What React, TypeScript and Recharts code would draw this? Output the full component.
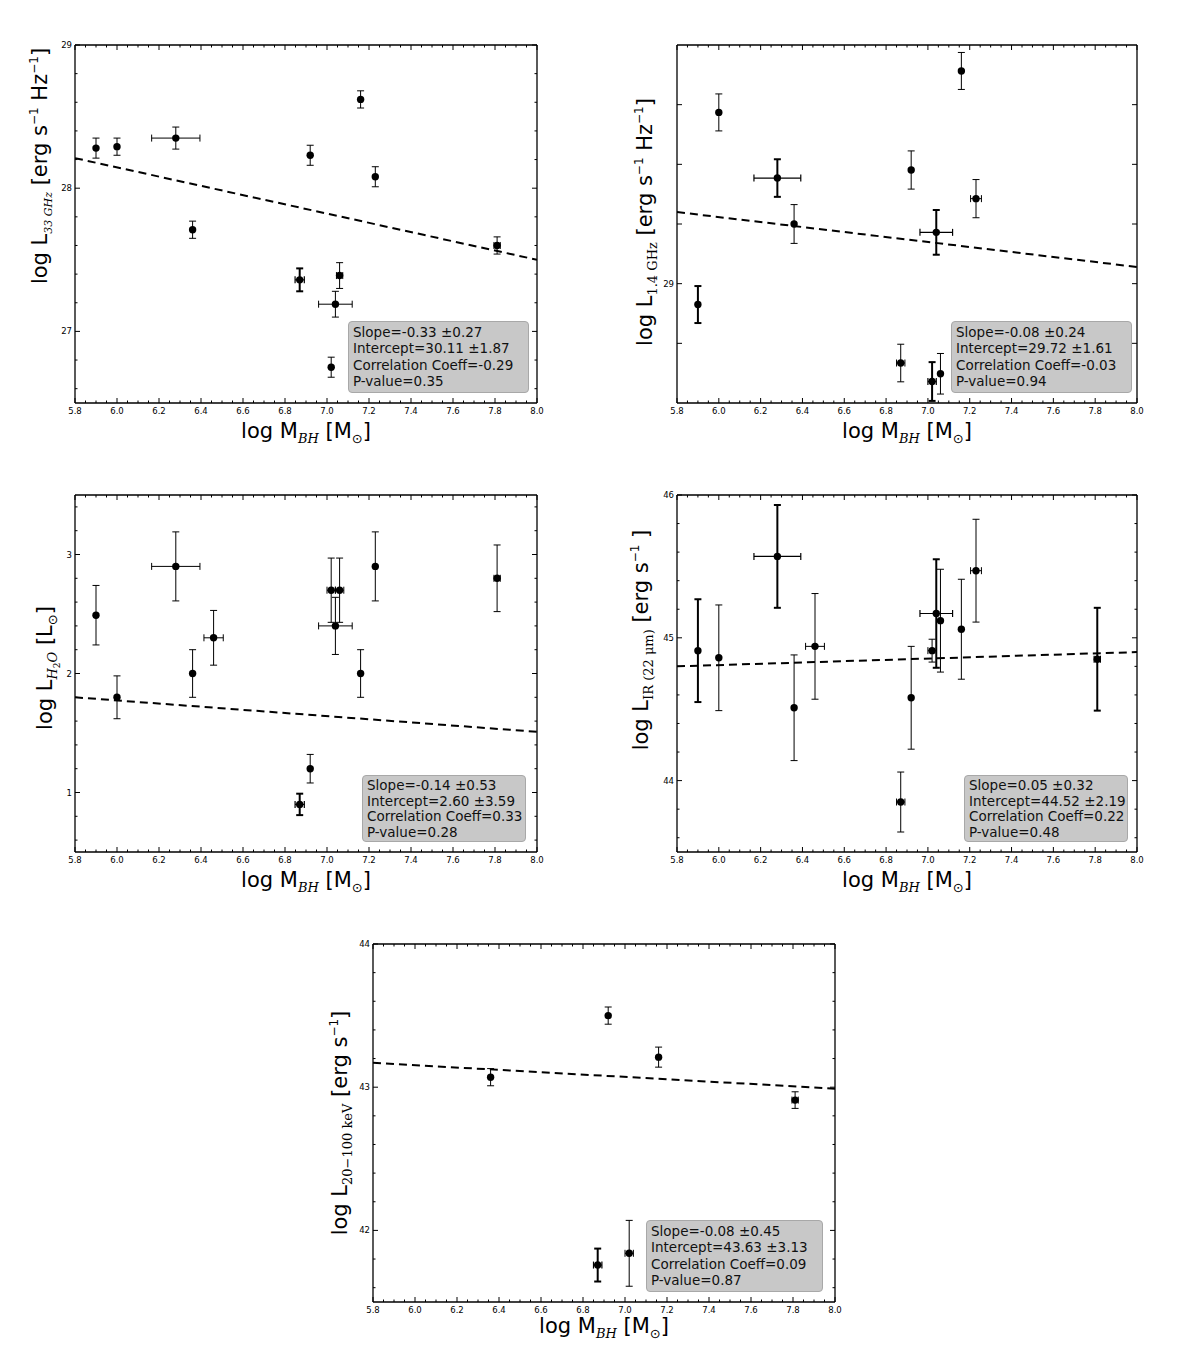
import React from 'react';
import { ScatterChart, Scatter, XAxis, YAxis, ErrorBar } from 'recharts';

const FONT = '"DejaVu Sans", sans-serif';
const SERIF = '"DejaVu Serif", serif';

// ---------- shared x axis ----------
const xMajorTicks = [5.8, 6.0, 6.2, 6.4, 6.6, 6.8, 7.0, 7.2, 7.4, 7.6, 7.8, 8.0];

// ---------- Panel 1: L 33 GHz ----------
const mbh1 = [5.9, 6.0, 6.28, 6.36, 6.92, 7.16, 7.23, 6.87, 7.06, 7.04, 7.02, 7.81];
const mbhErr1 = [0, 0, 0.115, 0, 0, 0, 0, 0.022, 0.015, 0.08, 0, 0.015];
const l33 = [28.28, 28.29, 28.35, 27.71, 28.23, 28.62, 28.08, 27.36, 27.39, 27.19, 26.75, 27.6];
const l33Err = [0.07, 0.06, 0.077, 0.06, 0.07, 0.06, 0.07, 0.08, 0.09, 0.09, 0.07, 0.06];
const thick1 = [0, 0, 0, 0, 0, 0, 0, 1, 0, 0, 0, 0];
const fitX1 = [5.8, 8.0];
const fitY1 = [28.21, 27.5];
const yTicks1 = [27, 28, 29];
const stats1 = ['Slope=-0.33 \u00b10.27', 'Intercept=30.11 \u00b11.87', 'Correlation Coeff=-0.29', 'P-value=0.35'];

// ---------- Panel 2: L 1.4 GHz ----------
const mbh2 = [5.9, 6.0, 6.28, 6.36, 6.92, 7.16, 7.23, 7.04, 6.87, 7.02, 7.06];
const mbhErr2 = [0, 0, 0.112, 0, 0, 0, 0.026, 0.078, 0.02, 0.02, 0];
const l14 = [28.93, 29.574, 29.354, 29.2, 29.381, 29.713, 29.285, 29.172, 28.734, 28.672, 28.698];
const l14Err = [0.062, 0.062, 0.063, 0.065, 0.064, 0.062, 0.064, 0.075, 0.063, 0.065, 0.068];
const thick2 = [1, 0, 1, 0, 0, 0, 0, 1, 0, 1, 0];
const fitX2 = [5.8, 8.0];
const fitY2 = [29.24, 29.056];
const yTicks2 = [28.8, 29.0, 29.2, 29.4, 29.6];
const yLabels2 = [29];
const stats2 = ['Slope=-0.08 \u00b10.24', 'Intercept=29.72 \u00b11.61', 'Correlation Coeff=-0.03', 'P-value=0.94'];

// ---------- Panel 3: L H2O ----------
const mbh3 = [5.9, 6.0, 6.28, 6.36, 6.46, 7.02, 7.06, 7.04, 7.16, 7.23, 7.81, 6.92, 6.87];
const mbhErr3 = [0, 0, 0.115, 0, 0.046, 0.02, 0.02, 0.08, 0, 0, 0.015, 0, 0.022];
const lh2o = [2.49, 1.8, 2.9, 2.0, 2.3, 2.7, 2.7, 2.4, 2.0, 2.9, 2.8, 1.2, 0.9];
const lh2oErr = [0.25, 0.18, 0.29, 0.2, 0.23, 0.27, 0.27, 0.24, 0.2, 0.29, 0.28, 0.12, 0.09];
const thick3 = [0, 0, 0, 0, 0, 0, 0, 0, 0, 0, 0, 0, 1];
const fitX3 = [5.8, 8.0];
const fitY3 = [1.8, 1.51];
const yTicks3 = [1, 2, 3];
const stats3 = ['Slope=-0.14 \u00b10.53', 'Intercept=2.60 \u00b13.59', 'Correlation Coeff=0.33', 'P-value=0.28'];

// ---------- Panel 4: L IR 22 um ----------
const mbh4 = [5.9, 6.0, 6.28, 6.36, 6.46, 6.92, 6.87, 7.02, 7.04, 7.06, 7.16, 7.23, 7.81];
const mbhErr4 = [0, 0, 0.112, 0, 0.045, 0, 0.02, 0.02, 0.078, 0, 0, 0.026, 0.015];
const lir = [44.91, 44.86, 45.57, 44.51, 44.94, 44.58, 43.85, 44.91, 45.17, 45.12, 45.06, 45.47, 44.85];
const lirErr = [0.36, 0.37, 0.36, 0.37, 0.37, 0.36, 0.21, 0.08, 0.38, 0.36, 0.35, 0.36, 0.36];
const thick4 = [1, 0, 1, 0, 0, 0, 0, 0, 1, 0, 0, 0, 1];
const fitX4 = [5.8, 8.0];
const fitY4 = [44.8, 44.9];
const yTicks4 = [44, 45, 46];
const stats4 = ['Slope=0.05 \u00b10.32', 'Intercept=44.52 \u00b12.19', 'Correlation Coeff=0.22', 'P-value=0.48'];

// ---------- Panel 5: L 20-100 keV ----------
const mbh5 = [6.36, 6.92, 7.16, 7.81, 6.87, 7.02];
const mbhErr5 = [0, 0, 0, 0.015, 0.02, 0.02];
const lx = [43.07, 43.5, 43.21, 42.91, 41.758, 41.84];
const lxErr = [0.06, 0.06, 0.07, 0.058, 0.115, 0.23];
const thick5 = [0, 0, 0, 0, 1, 0];
const fitX5 = [5.8, 8.0];
const fitY5 = [43.17, 42.99];
const yTicks5 = [42, 43, 44];
const stats5 = ['Slope=-0.08 \u00b10.45', 'Intercept=43.63 \u00b13.13', 'Correlation Coeff=0.09', 'P-value=0.87'];

type Pt = { x: number; y: number; ex: number; ey: number };

function subdivide(majors: number[], n: number, lo: number, hi: number): number[] {
  const step = (majors[1] - majors[0]) / n;
  const out: number[] = [];
  const start = majors[0] - Math.ceil((majors[0] - lo) / step - 1e-9) * step;
  for (let v = start; v <= hi + 1e-9; v += step) {
    if (v >= lo - 1e-9) out.push(Math.round(v * 10000) / 10000);
  }
  return out;
}

function makeTick(side: string, majors: number[], labels: number[] | null, fmt: (v: number) => string) {
  return (props: any) => {
    const { x, y, payload } = props;
    const v = payload.value;
    const major = majors.some((m) => Math.abs(m - v) < 1e-6);
    const hasLabel = labels !== null && labels.some((m) => Math.abs(m - v) < 1e-6);
    const len = major ? 5 : 2.5;
    let line: any = null;
    let text: any = null;
    if (side === 'bottom') {
      line = <line x1={x} x2={x} y1={y} y2={y - len} stroke="#000" strokeWidth={1} />;
      if (hasLabel)
        text = (
          <text x={x} y={y + 11} textAnchor="middle" fontSize={8.5} fontFamily={FONT} fill="#000">
            {fmt(v)}
          </text>
        );
    } else if (side === 'top') {
      line = <line x1={x} x2={x} y1={y} y2={y + len} stroke="#000" strokeWidth={1} />;
    } else if (side === 'left') {
      line = <line x1={x} x2={x + len} y1={y} y2={y} stroke="#000" strokeWidth={1} />;
      if (hasLabel)
        text = (
          <text x={x - 3} y={y + 3} textAnchor="end" fontSize={8.5} fontFamily={FONT} fill="#000">
            {fmt(v)}
          </text>
        );
    } else {
      line = <line x1={x} x2={x - len} y1={y} y2={y} stroke="#000" strokeWidth={1} />;
    }
    return (
      <g>
        {line}
        {text}
      </g>
    );
  };
}

const dot = (p: any) => <circle cx={p.cx} cy={p.cy} r={3.7} fill="#000" />;
const noDot = () => <g />;

type PanelProps = {
  rect: [number, number, number, number];
  yDomain: [number, number];
  yMajors: number[];
  yLabels: number[];
  yMinorStep: number | null;
  xs: number[];
  xe: number[];
  ys: number[];
  ye: number[];
  thick: number[];
  fitX: number[];
  fitY: number[];
};

function Panel(props: PanelProps) {
  const { rect, yDomain, yMajors, yLabels, yMinorStep, xs, xe, ys, ye, thick, fitX, fitY } = props;
  const [px, py, pw, ph] = rect;
  const padL = 30;
  const padT = 10;
  const padR = 10;
  const padB = 25;
  const W = pw + padL + padR;
  const H = ph + padT + padB;

  const thin: Pt[] = [];
  const bold: Pt[] = [];
  xs.forEach((x, i) => {
    const p = { x, y: ys[i], ex: xe[i], ey: ye[i] };
    if (thick[i]) bold.push(p);
    else thin.push(p);
  });
  const fit = fitX.map((x, i) => ({ x, y: fitY[i] }));

  const xAll = subdivide(xMajorTicks, 4, 5.8, 8.0);
  const yAll = yMinorStep
    ? subdivide(yMajors, Math.round((yMajors[1] - yMajors[0]) / yMinorStep), yDomain[0], yDomain[1])
    : yMajors;
  const yFmt = (v: number) => (Number.isInteger(v) ? String(v) : v.toFixed(1));
  const xFmt = (v: number) => v.toFixed(1);
  const axisStyle = { stroke: '#000', strokeWidth: 1.3 };

  return (
    <div style={{ position: 'absolute', left: px - 8 - padL, top: py - 8 - padT, width: W, height: H }}>
      <ScatterChart width={W} height={H} margin={{ top: padT - 1, right: padR - 1, bottom: 0, left: 0 }}>
        <XAxis
          xAxisId="b"
          type="number"
          dataKey="x"
          domain={[5.8, 8.0]}
          allowDataOverflow
          ticks={xAll}
          interval={0}
          orientation="bottom"
          height={padB}
          tickSize={0}
          tickMargin={0}
          tickLine={false}
          axisLine={axisStyle}
          tick={makeTick('bottom', xMajorTicks, xMajorTicks, xFmt)}
        />
        <XAxis
          xAxisId="t"
          type="number"
          dataKey="x"
          domain={[5.8, 8.0]}
          allowDataOverflow
          ticks={xAll}
          interval={0}
          orientation="top"
          height={1}
          tickSize={0}
          tickMargin={0}
          tickLine={false}
          axisLine={axisStyle}
          tick={makeTick('top', xMajorTicks, null, xFmt)}
        />
        <YAxis
          yAxisId="l"
          type="number"
          dataKey="y"
          domain={yDomain}
          allowDataOverflow
          ticks={yAll}
          interval={0}
          orientation="left"
          width={padL}
          tickSize={0}
          tickMargin={0}
          tickLine={false}
          axisLine={axisStyle}
          tick={makeTick('left', yMajors, yLabels, yFmt)}
        />
        <YAxis
          yAxisId="r"
          type="number"
          dataKey="y"
          domain={yDomain}
          allowDataOverflow
          ticks={yAll}
          interval={0}
          orientation="right"
          width={1}
          tickSize={0}
          tickMargin={0}
          tickLine={false}
          axisLine={axisStyle}
          tick={makeTick('right', yMajors, null, yFmt)}
        />
        <Scatter
          xAxisId="b"
          yAxisId="l"
          data={fit}
          line={{ stroke: '#000', strokeWidth: 2, strokeDasharray: '8 5' }}
          shape={noDot}
          isAnimationActive={false}
        />
        <Scatter xAxisId="b" yAxisId="l" data={thin} shape={dot} isAnimationActive={false}>
          <ErrorBar dataKey="ey" direction="y" width={3.5} stroke="#000" strokeWidth={1} isAnimationActive={false} />
          <ErrorBar dataKey="ex" direction="x" width={3.5} stroke="#000" strokeWidth={1} isAnimationActive={false} />
        </Scatter>
        <Scatter xAxisId="b" yAxisId="l" data={bold} shape={dot} isAnimationActive={false}>
          <ErrorBar dataKey="ey" direction="y" width={3.5} stroke="#000" strokeWidth={2} isAnimationActive={false} />
          <ErrorBar dataKey="ex" direction="x" width={3.5} stroke="#000" strokeWidth={1.2} isAnimationActive={false} />
        </Scatter>
      </ScatterChart>
    </div>
  );
}

function StatsBox({
  left,
  top,
  width,
  height,
  lines,
  lh,
}: {
  left: number;
  top: number;
  width: number;
  height: number;
  lines: string[];
  lh: number;
}) {
  return (
    <div
      style={{
        position: 'absolute',
        left: left - 8,
        top: top - 8,
        width,
        height,
        boxSizing: 'border-box',
        background: '#c8c8c8',
        border: '1px solid #a8a8a8',
        borderRadius: 4,
        fontFamily: FONT,
        fontSize: 13.5,
        lineHeight: `${lh}px`,
        padding: '2px 0 0 4px',
        color: '#111',
        whiteSpace: 'nowrap',
      }}
    >
      {lines.map((l, i) => (
        <div key={i}>{l}</div>
      ))}
    </div>
  );
}

function Label({ cx, cy, rotate, children }: { cx: number; cy: number; rotate?: boolean; children: any }) {
  return (
    <div
      style={{
        position: 'absolute',
        left: cx - 8,
        top: cy - 8,
        transform: rotate ? 'translate(-50%, -50%) rotate(-90deg)' : 'translate(-50%, -50%)',
        whiteSpace: 'nowrap',
        fontFamily: FONT,
        fontSize: 21,
        lineHeight: '24px',
        color: '#000',
      }}
    >
      {children}
    </div>
  );
}

const subS: React.CSSProperties = { fontFamily: SERIF, fontSize: 13, verticalAlign: '-5px', lineHeight: 0 };
const subSmall: React.CSSProperties = { fontFamily: SERIF, fontSize: 11, verticalAlign: '-5px', lineHeight: 0 };
const supS: React.CSSProperties = { fontSize: 12, verticalAlign: '9px', lineHeight: 0 };
const sunS: React.CSSProperties = { fontSize: 13, verticalAlign: '-5px', lineHeight: 0 };

const XLab = () => (
  <>
    log M<span style={{ ...subS, fontStyle: 'italic' }}>BH</span> [M<span style={sunS}>{'\u2299'}</span>]
  </>
);

export default function App() {
  return (
    <div style={{ position: 'relative', width: 1184, height: 1331, background: '#fff' }}>
      <Panel
        rect={[75, 45, 462, 358]}
        yDomain={[26.5, 29]}
        yMajors={yTicks1}
        yLabels={yTicks1}
        yMinorStep={0.2}
        xs={mbh1}
        xe={mbhErr1}
        ys={l33}
        ye={l33Err}
        thick={thick1}
        fitX={fitX1}
        fitY={fitY1}
      />
      <Panel
        rect={[677, 45, 460, 358]}
        yDomain={[28.6, 29.8]}
        yMajors={yTicks2}
        yLabels={yLabels2}
        yMinorStep={null}
        xs={mbh2}
        xe={mbhErr2}
        ys={l14}
        ye={l14Err}
        thick={thick2}
        fitX={fitX2}
        fitY={fitY2}
      />
      <Panel
        rect={[75, 495, 462, 357]}
        yDomain={[0.5, 3.5]}
        yMajors={yTicks3}
        yLabels={yTicks3}
        yMinorStep={0.2}
        xs={mbh3}
        xe={mbhErr3}
        ys={lh2o}
        ye={lh2oErr}
        thick={thick3}
        fitX={fitX3}
        fitY={fitY3}
      />
      <Panel
        rect={[677, 495, 460, 357]}
        yDomain={[43.5, 46]}
        yMajors={yTicks4}
        yLabels={yTicks4}
        yMinorStep={0.2}
        xs={mbh4}
        xe={mbhErr4}
        ys={lir}
        ye={lirErr}
        thick={thick4}
        fitX={fitX4}
        fitY={fitY4}
      />
      <Panel
        rect={[373, 944, 462, 358]}
        yDomain={[41.5, 44]}
        yMajors={yTicks5}
        yLabels={yTicks5}
        yMinorStep={0.2}
        xs={mbh5}
        xe={mbhErr5}
        ys={lx}
        ye={lxErr}
        thick={thick5}
        fitX={fitX5}
        fitY={fitY5}
      />

      <StatsBox left={348} top={321} width={181} height={72} lh={16.3} lines={stats1} />
      <StatsBox left={951} top={321} width={181} height={72} lh={16.3} lines={stats2} />
      <StatsBox left={362} top={775} width={164} height={67} lh={15.6} lines={stats3} />
      <StatsBox left={964} top={775} width={164} height={67} lh={15.6} lines={stats4} />
      <StatsBox left={646} top={1220} width={177} height={72} lh={16.3} lines={stats5} />

      <Label cx={40} cy={166} rotate>
        log L<span style={{ ...subSmall, fontStyle: 'italic' }}>33 GHz</span> [erg s<span style={supS}>{'\u22121'}</span> Hz
        <span style={supS}>{'\u22121'}</span>]
      </Label>
      <Label cx={645} cy={222} rotate>
        log L<span style={subS}>1.4 GHz</span> [erg s<span style={supS}>{'\u22121'}</span> Hz
        <span style={supS}>{'\u22121'}</span>]
      </Label>
      <Label cx={45} cy={668} rotate>
        log L
        <span style={subS}>
          <i>H</i>
          <span style={{ fontSize: 9, verticalAlign: '-3px' }}>2</span>
          <i>O</i>
        </span>{' '}
        [L<span style={sunS}>{'\u2299'}</span>]
      </Label>
      <Label cx={641} cy={640} rotate>
        log L<span style={subS}>IR (22 {'\u03bc'}m)</span> [erg s<span style={supS}>{'\u22121'}</span> ]
      </Label>
      <Label cx={340} cy={1123} rotate>
        log L<span style={subS}>20{'\u2212'}100 keV</span> [erg s<span style={supS}>{'\u22121'}</span>]
      </Label>

      <Label cx={306} cy={431}>
        <XLab />
      </Label>
      <Label cx={907} cy={431}>
        <XLab />
      </Label>
      <Label cx={306} cy={880}>
        <XLab />
      </Label>
      <Label cx={907} cy={880}>
        <XLab />
      </Label>
      <Label cx={604} cy={1326}>
        <XLab />
      </Label>
    </div>
  );
}
